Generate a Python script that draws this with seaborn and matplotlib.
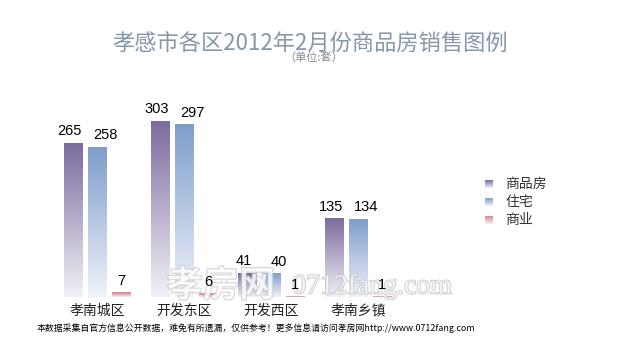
import numpy as np
import pandas as pd
import matplotlib
matplotlib.use("Agg")
import matplotlib.pyplot as plt
import matplotlib.patheffects as pe
from matplotlib.colors import LinearSegmentedColormap
import seaborn as sns

# 数据
districts = ["孝南城区", "开发东区", "开发西区", "孝南乡镇"]
series_names = ["商品房", "住宅", "商业"]
commodity = [265, 303, 41, 135]
residential = [258, 297, 40, 134]
commercial = [7, 6, 1, 1]

title_text = "孝感市各区2012年2月份商品房销售图例"
unit_text = "（单位:套）"
footer_text = "本数据采集自官方信息公开数据，难免有所遗漏，仅供参考！更多信息请访问孝房网http://www.0712fang.com"

top_colors = ["#7a6b9e", "#7d9dcc", "#d9788b"]
bottom_colors = ["#f3f1f7", "#f0f3f9", "#fbeef0"]
# 数值标签的水平偏移（磅），避免相邻标签挤在一起
label_shift = [-2.2, 5.8, 0.0]

df = pd.DataFrame({
    "区域": districts * 3,
    "类型": [s for s in series_names for _ in districts],
    "套数": commodity + residential + commercial,
})

sns.set_theme(style="white")
plt.rcParams["font.family"] = ["Noto Sans CJK SC", "DejaVu Sans"]

fig = plt.figure(figsize=(6.2, 3.45), dpi=100)
fig.patch.set_facecolor("white")
ax = fig.add_axes([10 / 620, 48 / 345, 435 / 620, 203 / 345])

sns.barplot(data=df, x="区域", y="套数", hue="类型", hue_order=series_names,
            palette=top_colors, width=0.828, gap=0.25, legend=False, ax=ax)

# 渐变填充：每根柱子从顶部颜色过渡到底部浅色
grad = np.linspace(0, 1, 256).reshape(-1, 1)
for i, container in enumerate(ax.containers):
    cmap = LinearSegmentedColormap.from_list(f"g{i}", [bottom_colors[i], top_colors[i]])
    for patch, val in zip(container.patches, container.datavalues):
        x0, y0 = patch.get_x(), patch.get_y()
        w, h = patch.get_width(), patch.get_height()
        ax.imshow(grad, extent=[x0, x0 + w, y0, y0 + h], origin="lower",
                  aspect="auto", cmap=cmap, zorder=2)
        patch.set_facecolor("none")
        patch.set_edgecolor("none")
        ax.annotate(f"{val:g}", xy=(x0 + w / 2, y0 + h),
                    xytext=(label_shift[i], 3.5), textcoords="offset points",
                    ha="center", va="bottom", fontsize=10.5, color="black",
                    family=["Liberation Sans", "DejaVu Sans"], zorder=4)

ax.set_xlim(-1, 4)
ax.set_ylim(0, 350)
ax.set_aspect("auto")
for s in ax.spines.values():
    s.set_visible(False)
ax.set_xlabel("")
ax.set_ylabel("")
ax.set_yticks([])
ax.tick_params(axis="x", length=0, pad=5, labelsize=10, labelcolor="#222222")

# 水印：半透明描边字，压在柱子之上、数值之下
wm_fx = [pe.withStroke(linewidth=1.3, foreground="#bdbdbd")]
ax.text(221 / 620, 1 - 286 / 345, "孝房网", transform=fig.transFigure,
        fontsize=26, fontweight="bold", color="white", alpha=0.6,
        ha="center", va="center", path_effects=wm_fx, zorder=3, clip_on=False)
ax.text(372 / 620, 1 - 287 / 345, "0712fang.com", transform=fig.transFigure,
        fontsize=20, color="white", alpha=0.7, ha="center", va="center",
        path_effects=wm_fx, family=["Liberation Serif", "DejaVu Serif"],
        zorder=3, clip_on=False)

# 图例
leg_y = [184, 202, 220]
for i, name in enumerate(series_names):
    lax = fig.add_axes([485 / 620, 1 - (leg_y[i] + 4) / 345, 8 / 620, 8 / 345])
    cmap = LinearSegmentedColormap.from_list(f"l{i}", [bottom_colors[i], top_colors[i]])
    lax.imshow(grad, origin="lower", aspect="auto", cmap=cmap)
    lax.set_axis_off()
    fig.text(505 / 620, 1 - leg_y[i] / 345, name, fontsize=10, color="#333333",
             va="center", ha="left")

# 标题与单位
fig.text(0.5, 1 - 43 / 345, title_text, fontsize=16, color="#8597a8",
         ha="center", va="center")
fig.text(314 / 620, 1 - 58 / 345, unit_text, fontsize=8, color="#8a8a8a",
         ha="center", va="center")

# 底部说明
fig.text(37 / 620, 1 - 328 / 345, footer_text, fontsize=6.4, color="black",
         ha="left", va="center")

fig.savefig("out.png", dpi=100, facecolor="white")
